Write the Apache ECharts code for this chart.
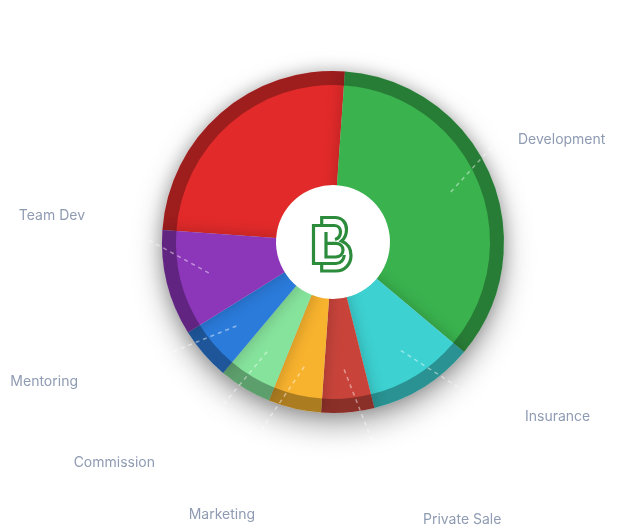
<!DOCTYPE html>
<html><head><meta charset="utf-8">
<script src="https://cdn.jsdelivr.net/npm/echarts@6/dist/echarts.min.js"></script>
<style>html,body{margin:0;padding:0;background:#fff}#c{width:621px;height:527px}</style>
</head><body><div id="c"></div>
<script>
// ---- data ----
const categories = ['Other', 'Development', 'Insurance', 'Private Sale', 'Marketing', 'Commission', 'Mentoring', 'Team Dev'];
const values = [25, 35, 10, 5, 5, 5, 5, 10];
const colors = ['#E22A2A', '#3AB34E', '#3DD1D1', '#C8443B', '#F7B22E', '#86E39C', '#2B7BDB', '#8C36B9'];
const showLabel = [false, true, true, true, true, true, true, true];
// label anchor positions (near edge x, middle y)
const labelX = [0, 518, 525, 423, 255, 155, 78, 85];
const labelY = [0, 140, 417, 520, 515, 463, 382, 216];

// ---- layout ----
const CENTER = [333, 242];
const R = 171, RING = 157, HOLE = 57, LABEL_R = 128;

const logoSvg = "<svg xmlns='http://www.w3.org/2000/svg' width='52' height='68' viewBox='0 0 52 68'>" +
  "<g fill='none' stroke='#2C8C3C' stroke-width='3.2' stroke-linejoin='miter'>" +
  "<path d='M16.7 7.5H30C37 7.5 41.5 12.5 41.5 19.5C41.5 24.5 39.5 28.5 36.5 31C42.5 33.5 46 38.5 46 45.5C46 54.5 39.5 61 31 61H16.7V53.5H8.5V15.5H16.7Z'/>" +
  "<path d='M16.7 15.5H29.5C33.5 15.5 35.5 18.5 35.5 22C35.5 25.5 33.5 28.5 30 29.5'/>" +
  "<path d='M21 22V47H30.5C35 47 38 44 38 40C38 36 35 33.3 30.5 33.3H21'/>" +
  "<path d='M16.7 53.5H31C35.5 53.5 39 50 39.3 45'/>" +
  "</g></svg>";

const chart = echarts.init(document.getElementById('c'), null, {renderer: 'canvas'});

const mainData = categories.map((n, i) => ({
  name: n, value: values[i],
  itemStyle: {color: colors[i]}
}));
const ringData = categories.map((n, i) => ({name: n, value: values[i]}));
const labelData = categories.map((n, i) => ({
  name: n, value: values[i],
  label: {show: showLabel[i]},
  labelLine: {show: showLabel[i]}
}));

const common = {
  type: 'pie', center: CENTER, startAngle: 176, clockwise: true,
  animation: false, silent: true, avoidLabelOverlap: false,
  emphasis: {disabled: true}
};

chart.setOption({
  backgroundColor: '#fff',
  series: [
    Object.assign({}, common, {
      name: 'shadow', radius: [0, R], z: 1,
      label: {show: false}, labelLine: {show: false},
      data: [{value: 1, itemStyle: {color: '#fff', shadowBlur: 30, shadowOffsetY: 12, shadowColor: 'rgba(0,0,0,0.35)'}}]
    }),
    Object.assign({}, common, {
      name: 'main', radius: [0, R], z: 2,
      label: {show: false}, labelLine: {show: false},
      itemStyle: {shadowBlur: 16, shadowColor: 'rgba(0,0,0,0.22)'},
      data: mainData
    }),
    Object.assign({}, common, {
      name: 'ring', radius: [RING, R], z: 3,
      label: {show: false}, labelLine: {show: false},
      itemStyle: {color: 'rgba(0,0,0,0.3)'},
      data: ringData
    }),
    Object.assign({}, common, {
      name: 'labels', radius: [0, LABEL_R], z: 4,
      itemStyle: {color: 'rgba(0,0,0,0)'},
      label: {
        position: 'outside', color: '#8F9BB3', fontSize: 14,
        fontFamily: 'Inter, "Noto Sans", sans-serif', formatter: '{b}'
      },
      labelLine: {
        length: 15, length2: 20,
        lineStyle: {color: 'rgba(255,255,255,0.45)', width: 1.5, type: [4, 4]}
      },
      labelLayout: function (p) {
        return {x: labelX[p.dataIndex], y: labelY[p.dataIndex]};
      },
      data: labelData
    }),
    Object.assign({}, common, {
      name: 'hole', radius: [0, HOLE], z: 5,
      label: {show: false}, labelLine: {show: false},
      data: [{value: 1, itemStyle: {color: '#fff'}}]
    })
  ],
  graphic: [{
    type: 'image', x: CENTER[0] - 28, y: CENTER[1] - 32, z: 100,
    style: {image: 'data:image/svg+xml;charset=utf-8,' + encodeURIComponent(logoSvg), width: 52, height: 68}
  }]
});
</script>
</body></html>
